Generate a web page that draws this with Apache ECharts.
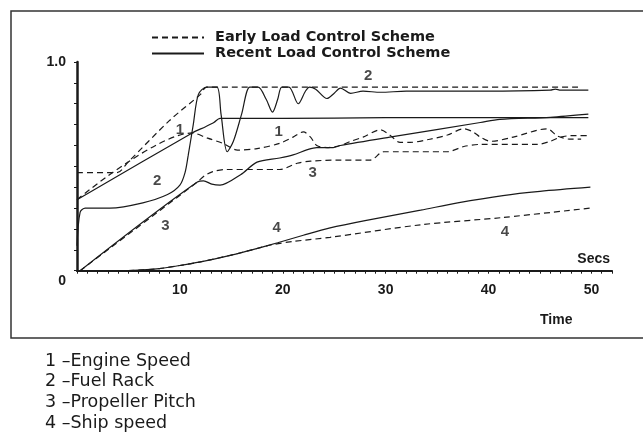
<!DOCTYPE html>
<html><head><meta charset="utf-8">
<script src="https://cdn.jsdelivr.net/npm/echarts@6/dist/echarts.min.js"></script>
<style>html,body{margin:0;padding:0;background:#fff}#c{width:643px;height:432px}</style>
</head><body><div id="c"></div>
<script>
// ---- data (x = seconds, y = per-unit) ----
const schemeNames = ['Early Load Control Scheme', 'Recent Load Control Scheme'];
const captionLines = ['1 \u2013Engine Speed', '2 \u2013Fuel Rack', '3 \u2013Propeller Pitch', '4 \u2013Ship speed'];
const xTickLabels = [10, 20, 30, 40, 50];

const engineSpeedRecent = [[0,0.34],[11.2,0.66],[12.5,0.69],[13.3,0.71],[13.9,0.73],[20,0.73],[30,0.733],[40,0.733],[49.7,0.733]];
const engineSpeedEarly = [[0,0.34],[11.2,0.66],[12.7,0.635],[14.2,0.61],[15.6,0.578],[17.5,0.585],[19.7,0.61],[21,0.64],[22,0.665],[22.7,0.64],[23.3,0.6],[24.3,0.59],[25.6,0.6],[26.6,0.62],[27.8,0.64],[29.5,0.675],[30.4,0.65],[31.4,0.615],[32.4,0.615],[34.3,0.63],[36,0.65],[37.6,0.68],[38.5,0.665],[39.2,0.64],[40.2,0.62],[42.4,0.64],[45.7,0.68],[46.7,0.645],[48,0.63],[49,0.63]];

const fuelRackRecent = [[0,0.12],[0.3,0.28],[0.8,0.3],[3.2,0.3],[6.4,0.325],[8.8,0.365],[10,0.41],[10.5,0.47],[10.8,0.55],[11.3,0.7],[11.8,0.845],[12.6,0.88],[13.6,0.88],[14.0,0.75],[14.6,0.57],[15.2,0.62],[16.0,0.75],[16.8,0.88],[17.6,0.88],[18.4,0.82],[19.0,0.76],[19.5,0.82],[19.9,0.88],[20.6,0.88],[21.5,0.8],[22.2,0.86],[22.6,0.88],[23.2,0.87],[24.3,0.825],[25.0,0.85],[25.6,0.875],[26.6,0.85],[27.8,0.86],[29.5,0.855],[32,0.86],[40,0.86],[46,0.865],[46.5,0.87],[47,0.865],[49.7,0.865]];
const fuelRackEarly = [[0,0.47],[3.9,0.47],[4.96,0.52],[9,0.72],[12,0.845],[12.6,0.88],[49,0.88]];

const pitchRecent = [[0.3,0],[11.7,0.425],[12.3,0.43],[13.1,0.415],[13.9,0.41],[15.9,0.46],[17.5,0.52],[19.7,0.54],[21,0.555],[22.4,0.58],[23.3,0.59],[24.9,0.59],[25.6,0.6],[30.4,0.64],[39.2,0.71],[41.1,0.725],[46,0.735],[49.7,0.75]];
const pitchEarly = [[0.3,0],[11.7,0.425],[12.4,0.455],[13.2,0.475],[14.6,0.485],[19.7,0.485],[21.4,0.515],[22.7,0.525],[25.6,0.53],[28.5,0.53],[29.8,0.57],[31.1,0.57],[36,0.57],[37.6,0.595],[39.2,0.605],[44.7,0.605],[46,0.62],[47,0.64],[48,0.647],[49.9,0.647]];

const shipSpeedRecent = [[5,0],[8,0.01],[10,0.025],[12,0.042],[15,0.075],[17,0.1],[19.5,0.134],[22,0.17],[24.6,0.205],[28,0.24],[33.4,0.29],[37,0.325],[41.4,0.36],[45,0.38],[49.9,0.4]];
const shipSpeedEarly = [[5,0],[8,0.01],[10,0.025],[12,0.042],[15,0.075],[17,0.1],[19,0.125],[21,0.14],[24.6,0.16],[33.4,0.22],[41.4,0.255],[49.9,0.3]];

const curveLabels = [[10.0,0.675,'1'],[19.6,0.667,'1'],[28.3,0.935,'2'],[7.8,0.43,'2'],[8.6,0.215,'3'],[22.9,0.47,'3'],[19.4,0.205,'4'],[41.6,0.185,'4']];

// ---- chart ----
const ink = '#1a1a1a';
const font = 'Liberation Sans';
const wide = 'DejaVu Sans';
function line(name, data, dashed) {
  return {
    type: 'line', name: name, data: data, symbol: 'none', smooth: 0.3,
    lineStyle: { color: ink, width: 1.2, type: dashed ? [6, 4] : 'solid' },
    itemStyle: { color: ink }, z: 3
  };
}
const chart = echarts.init(document.getElementById('c'), null, { renderer: 'canvas' });
chart.setOption({
  backgroundColor: '#fff',
  animation: false,
  grid: { left: 77, right: 31, top: 62, bottom: 161.3 },
  legend: {
    data: schemeNames, orient: 'vertical', left: 146, top: 25,
    itemWidth: 52, itemHeight: 14, itemGap: 1,
    itemStyle: { opacity: 0, borderWidth: 0 },
    lineStyle: { opacity: 1 },
    textStyle: { fontFamily: wide, fontSize: 14.5, lineHeight: 14, fontWeight: 'bold', color: ink, padding: [0,0,0,6] }
  },
  xAxis: {
    type: 'value', min: 0, max: 52, interval: 1,
    name: 'Secs', nameLocation: 'end', nameGap: -2,
    nameTextStyle: { fontFamily: font, fontSize: 14, fontWeight: 'bold', color: ink, align: 'right', verticalAlign: 'bottom', padding: [0,0,5,0] },
    axisLine: { lineStyle: { color: ink, width: 2 } },
    axisTick: { show: true, length: 3, lineStyle: { color: ink, width: 1 } },
    splitLine: { show: false },
    axisLabel: {
      margin: 12, fontFamily: font, fontSize: 14, fontWeight: 'bold', color: ink,
      formatter: v => xTickLabels.indexOf(v) >= 0 ? String(v) : ''
    }
  },
  yAxis: {
    type: 'value', min: 0, max: 1, interval: 0.1,
    axisLine: { show: true, lineStyle: { color: ink, width: 2.5 } },
    axisTick: { show: true, length: 3, lineStyle: { color: ink, width: 1 } },
    splitLine: { show: false },
    axisLabel: {
      margin: 11, fontFamily: font, fontSize: 14, fontWeight: 'bold', color: ink,
      formatter: v => Math.abs(v - 1) < 1e-6 ? '1.0' : (Math.abs(v) < 1e-6 ? '{z|0}' : ''),
      rich: { z: { fontFamily: font, fontSize: 14, fontWeight: 'bold', color: ink, padding: [20, 0, 0, 0] } }
    }
  },
  graphic: [
    { type: 'rect', shape: { x: 11, y: 11, width: 700, height: 327 }, style: { fill: 'none', stroke: '#333', lineWidth: 1.5 }, silent: true },
    { type: 'text', left: 540, top: 313, style: { text: 'Time', fontFamily: font, fontSize: 14, fontWeight: 'bold', fill: ink } }
  ].concat(captionLines.map((t, i) => ({
    type: 'text', left: 45, top: 352 + i * 20.7,
    style: { text: t, fontFamily: wide, fontSize: 17.5, fill: ink }
  }))),
  series: [
    line(schemeNames[0], fuelRackEarly, true),
    line(schemeNames[0], engineSpeedEarly, true),
    line(schemeNames[0], pitchEarly, true),
    line(schemeNames[0], shipSpeedEarly, true),
    line(schemeNames[1], fuelRackRecent, false),
    line(schemeNames[1], engineSpeedRecent, false),
    line(schemeNames[1], pitchRecent, false),
    line(schemeNames[1], shipSpeedRecent, false),
    {
      type: 'scatter', name: 'labels', data: curveLabels, symbolSize: 0, silent: true,
      label: { show: true, position: 'inside', formatter: p => p.data[2], fontFamily: font, fontSize: 15, fontWeight: 'bold', color: ink }
    }
  ]
});
</script></body></html>
